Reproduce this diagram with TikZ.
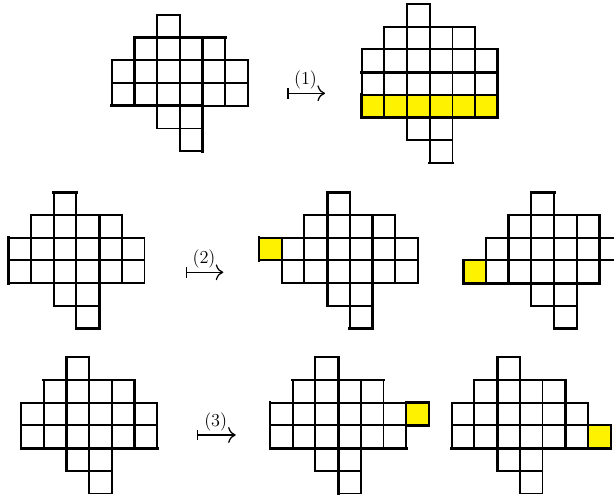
\documentclass[tikz,border=0pt]{standalone}
\usetikzlibrary{arrows.meta}
\tikzset{
  cellbox/.style={draw=black, line width=1.35pt},
  newcell/.style={cellbox, fill=yellow},
  heavy/.style={draw=black, line width=2.05pt, line cap=rect},
  mapsarrow/.style={line width=0.9pt, {Bar[width=7.5pt]}-{To[scale=1.5]}},
  steplabel/.style={font=\fontsize{13}{15}\selectfont, anchor=base, inner sep=0pt},
  diagram/.style={x=0.5675cm, y=-0.5675cm},
}
\newcommand\cellrow[4][cellbox]{\foreach \c in {#3,...,#4}{\path[#1] (\c,#2) rectangle ++(1,1);}}
\newcommand\baseshape{%
  \cellrow{0}{2}{2}\cellrow{1}{1}{4}\cellrow{2}{0}{5}\cellrow{3}{0}{5}%
  \cellrow{4}{2}{3}\cellrow{5}{3}{3}}
\begin{document}
\begin{tikzpicture}[x=0.025cm, y=-0.025cm]
\useasboundingbox (0,0) rectangle (614,499);
% ---------- D1 ----------
\begin{scope}[shift={(111.7,15)}, diagram]
  \baseshape
  \draw[heavy] (1,1) -- (5,1);
  \draw[heavy] (1,1) -- (1,4);
  \draw[heavy] (4,1) -- (4,6);
  \draw[heavy] (0,4) -- (4,4);
\end{scope}
% ---------- D2 ----------
\begin{scope}[shift={(361.7,4)}, diagram]
  \cellrow{0}{2}{2}\cellrow{1}{1}{4}\cellrow{2}{0}{5}\cellrow{3}{0}{5}
  \cellrow[newcell]{4}{0}{5}
  \cellrow{5}{2}{3}\cellrow{6}{3}{3}
  \draw[heavy] (2,0) -- (3,0);
  \draw[heavy] (0,3) -- (6,3);
  \draw[heavy] (0,5) -- (6,5);
  \draw[heavy] (6,2) -- (6,5);
  \draw[heavy] (0,4) -- (0,5);
  \draw[heavy] (3,7) -- (4,7);
\end{scope}
% ---------- D3 ----------
\begin{scope}[shift={(8.3,192.3)}, diagram]
  \baseshape
  \draw[heavy] (2,0) -- (3,0);
  \draw[heavy] (4,1) -- (4,6);
  \draw[heavy] (3,6) -- (4,6);
  \draw[heavy] (0,2) -- (0,4);
\end{scope}
% ---------- D4 ----------
\begin{scope}[shift={(259,192.3)}, diagram]
  \cellrow{0}{3}{3}\cellrow{1}{2}{5}
  \cellrow[newcell]{2}{0}{0}\cellrow{2}{1}{6}\cellrow{3}{1}{6}
  \cellrow{4}{3}{4}\cellrow{5}{4}{4}
  \draw[heavy] (3,0) -- (4,0);
  \draw[heavy] (3,0) -- (3,5);
  \draw[heavy] (5,1) -- (5,6);
  \draw[heavy] (4,6) -- (5,6);
  \draw[heavy] (0,2) -- (0,3);
\end{scope}
% ---------- D5 ----------
\begin{scope}[shift={(463.3,192.3)}, diagram]
  \cellrow{0}{3}{3}\cellrow{1}{2}{5}
  \cellrow{2}{1}{6}
  \cellrow[newcell]{3}{0}{0}\cellrow{3}{1}{5}
  \cellrow{4}{3}{4}\cellrow{5}{4}{4}
  \draw[heavy] (3,0) -- (4,0);
  \draw[heavy] (2,1) -- (2,4);
  \draw[heavy] (6,1) -- (6,4);
  \draw[heavy] (4,6) -- (5,6);
  \draw[heavy] (0,3) -- (0,4);
  \draw[heavy] (0,4) -- (6,4);
\end{scope}
% ---------- D6 ----------
\begin{scope}[shift={(21,357.3)}, diagram]
  \baseshape
  \draw[heavy] (2,0) -- (2,5);
  \draw[heavy] (1,1) -- (5,1);
  \draw[heavy] (5,1) -- (5,4);
  \draw[heavy] (0,4) -- (6,4);
\end{scope}
% ---------- D7 ----------
\begin{scope}[shift={(270,357.3)}, diagram]
  \baseshape
  \cellrow[newcell]{2}{6}{6}
  \draw[heavy] (3,0) -- (3,6);
  \draw[heavy] (0,2) -- (0,4);
  \draw[heavy] (0,4) -- (6,4);
  \draw[heavy] (1,1) -- (5,1);
  \draw[heavy] (6,2) -- (7,2) -- (7,3) -- (6,3);
\end{scope}
% ---------- D8 ----------
\begin{scope}[shift={(451.7,357.3)}, diagram]
  \baseshape
  \cellrow[newcell]{3}{6}{6}
  \draw[heavy] (2,0) -- (2,5);
  \draw[heavy] (1,1) -- (5,1);
  \draw[heavy] (5,1) -- (5,4);
  \draw[heavy] (0,4) -- (7,4);
\end{scope}
% ---------- arrows ----------
\coordinate (a1s) at (287.3,93.3);  \coordinate (a1e) at (325,93.3);
\coordinate (a2s) at (185.7,272.3); \coordinate (a2e) at (223.3,272.3);
\coordinate (a3s) at (196.7,435);   \coordinate (a3e) at (235.7,435);
\draw[mapsarrow] (a1s) -- (a1e);
\draw[mapsarrow] (a2s) -- (a2e);
\draw[mapsarrow] (a3s) -- (a3e);
\node[steplabel] (l1) at (305.5,85) {(1)};
\node[steplabel] (l2) at (204,264) {(2)};
\node[steplabel] (l3) at (215.7,426.5) {(3)};
\end{tikzpicture}
\end{document}
